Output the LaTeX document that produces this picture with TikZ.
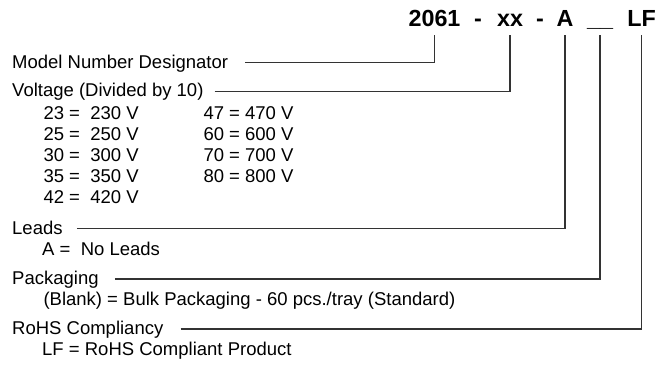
\documentclass[tikz,border=0pt]{standalone}
\usepackage{fontspec}
\setmainfont{Liberation Sans}
\begin{document}
\begin{tikzpicture}[x=1pt,y=-1pt,
  lbl/.style={anchor=base west,inner sep=0pt,font=\fontsize{18.5}{21}\selectfont},
  code/.style={anchor=base,inner sep=0pt,font=\fontsize{23.3}{26}\selectfont\bfseries},
  lead/.style={line width=1.3pt,draw=black!80}]
\useasboundingbox (0,0) rectangle (671,365);
% part number
\node[code] (t1) at (434.5,26) {2061};
\node[code] (d1) at (478,26) {-};
\node[code] (t2) at (510,26) {xx};
\node[code] (d2) at (540,26) {-};
\node[code] (t3) at (565,26) {A};
\node[code] (t4) at (600,26) {\_\_};
\node[code] (t5) at (641.5,26) {LF};
\coordinate (top) at (0,35);
% model
\node[lbl] (model) at (12,68.3) {Model Number Designator};
\draw[lead] ([xshift=17pt,yshift=5.8pt]model.base east) -| (t1 |- top);
% voltage
\node[lbl] (volt) at (12,96.7) {Voltage (Divided by 10)};
\draw[lead] ([xshift=11pt,yshift=5.5pt]volt.base east) -| (t2 |- top);
\node[lbl] (v1) at (43.3,119.3) {23 = \ 230 V};
\node[lbl] (v2) at (43.3,140.3) {25 = \ 250 V};
\node[lbl] (v3) at (43.3,161.3) {30 = \ 300 V};
\node[lbl] (v4) at (43.3,182.3) {35 = \ 350 V};
\node[lbl] (v5) at (43.3,203.3) {42 = \ 420 V};
\node[lbl] (w1) at (203.3,119.3) {47 = 470 V};
\node[lbl] (w2) at (203.3,140.3) {60 = 600 V};
\node[lbl] (w3) at (203.3,161.3) {70 = 700 V};
\node[lbl] (w4) at (203.3,182.3) {80 = 800 V};
% leads
\node[lbl] (leads) at (12,234.3) {Leads};
\draw[lead] ([xshift=14pt,yshift=6pt]leads.base east) -| (t3 |- top);
\node[lbl] (lv) at (42,255.3) {A = \ No Leads};
% packaging
\node[lbl] (pack) at (12,284.8) {Packaging};
\draw[lead] ([xshift=16pt,yshift=5.8pt]pack.base east) -| (t4 |- top);
\node[lbl] (pv) at (43.3,305.8) {(Blank) = Bulk Packaging - 60 pcs./tray (Standard)};
% rohs
\node[lbl] (rohs) at (12,334.8) {RoHS Compliancy};
\draw[lead] ([xshift=17pt,yshift=5.8pt]rohs.base east) -| (t5 |- top);
\node[lbl] (rv) at (42,355.8) {LF = RoHS Compliant Product};
\end{tikzpicture}
\end{document}
